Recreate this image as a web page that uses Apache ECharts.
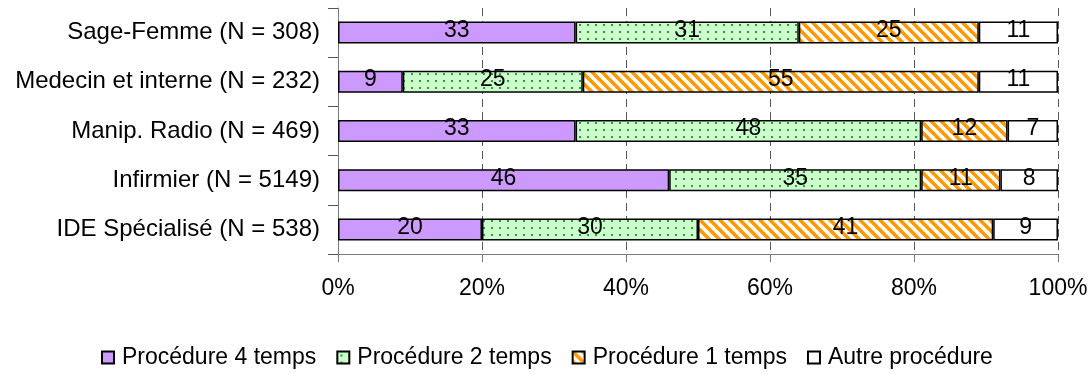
<!DOCTYPE html>
<html>
<head>
<meta charset="utf-8">
<script src="https://cdn.jsdelivr.net/npm/echarts@6/dist/echarts.min.js"></script>
<style>
  html, body { margin: 0; padding: 0; background: #fff; }
  #chart { width: 1092px; height: 374px; }
</style>
</head>
<body>
<div id="chart"></div>
<script>
// Professions surveyed (top to bottom)
const categories = [
  'Sage-Femme (N = 308)',
  'Medecin et interne (N = 232)',
  'Manip. Radio (N = 469)',
  'Infirmier (N = 5149)',
  'IDE Spécialisé (N = 538)'
];
// Share of each procedure, in %
const seriesNames = ['Procédure 4 temps', 'Procédure 2 temps', 'Procédure 1 temps', 'Autre procédure'];
const proc4 = [33, 9, 33, 46, 20];
const proc2 = [31, 25, 48, 35, 30];
const proc1 = [25, 55, 12, 11, 41];
const autre = [11, 11, 7, 8, 9];
const xTicks = [0, 20, 40, 60, 80, 100];

// Fill patterns
function dotPattern() {
  const c = document.createElement('canvas');
  c.width = 8; c.height = 7;
  const g = c.getContext('2d');
  g.fillStyle = '#ccffcc';
  g.fillRect(0, 0, 8, 7);
  g.fillStyle = '#2e9e3a';
  g.fillRect(3, 3, 2, 2);
  return c;
}
function stripePattern() {
  const s = 10;
  const c = document.createElement('canvas');
  c.width = s; c.height = s;
  const g = c.getContext('2d');
  g.fillStyle = '#ffffff';
  g.fillRect(0, 0, s, s);
  g.strokeStyle = '#ff9900';
  g.lineWidth = 3.6;
  for (let k = -1; k <= 1; k++) {
    g.beginPath();
    g.moveTo(k * s - 2, -2);
    g.lineTo(k * s + s + 2, s + 2);
    g.stroke();
  }
  return c;
}

const fills = [
  '#cc99ff',
  { image: dotPattern(), repeat: 'repeat' },
  { image: stripePattern(), repeat: 'repeat' },
  '#ffffff'
];
const values = [proc4, proc2, proc1, autre];

const font = 'Liberation Sans, Arial, sans-serif';
const fs = 23;

const chart = echarts.init(document.getElementById('chart'), null, { renderer: 'canvas' });
chart.setOption({
  animation: false,
  textStyle: { fontFamily: font },
  grid: { left: 338, right: 34, top: 8, bottom: 120, containLabel: false },
  legend: {
    bottom: 0,
    left: 96,
    itemWidth: 12,
    itemHeight: 12,
    itemGap: 20,
    icon: 'rect',
    textStyle: { fontSize: fs, color: '#000', fontFamily: font, padding: [0, 0, 0, 3] },
    data: seriesNames
  },
  xAxis: {
    type: 'value',
    min: 0,
    max: 100,
    interval: 20,
    axisLine: { show: true, lineStyle: { color: '#7a7a7a', width: 1 } },
    axisTick: { show: true, length: 8, lineStyle: { color: '#7a7a7a' } },
    axisLabel: {
      margin: 23,
      fontSize: fs,
      color: '#000',
      fontFamily: font,
      formatter: v => (xTicks.includes(v) ? v + '%' : '')
    },
    splitLine: { show: true, lineStyle: { color: '#555', type: [8, 5], width: 1 } }
  },
  yAxis: {
    type: 'category',
    inverse: true,
    data: categories,
    axisLine: { show: true, lineStyle: { color: '#7a7a7a', width: 1 } },
    axisTick: { show: true, length: 10, lineStyle: { color: '#555' } },
    axisLabel: { margin: 18, fontSize: 24, color: '#000', fontFamily: font }
  },
  series: seriesNames.map((name, i) => ({
    name,
    type: 'bar',
    stack: 'total',
    barWidth: 22,
    data: values[i],
    itemStyle: { color: fills[i], borderColor: '#000', borderWidth: 1.5 },
    label: {
      show: true,
      position: 'inside',
      offset: [0, -2],
      fontSize: fs,
      color: '#000',
      fontFamily: font
    },
    emphasis: { disabled: true }
  }))
});
</script>
</body>
</html>
